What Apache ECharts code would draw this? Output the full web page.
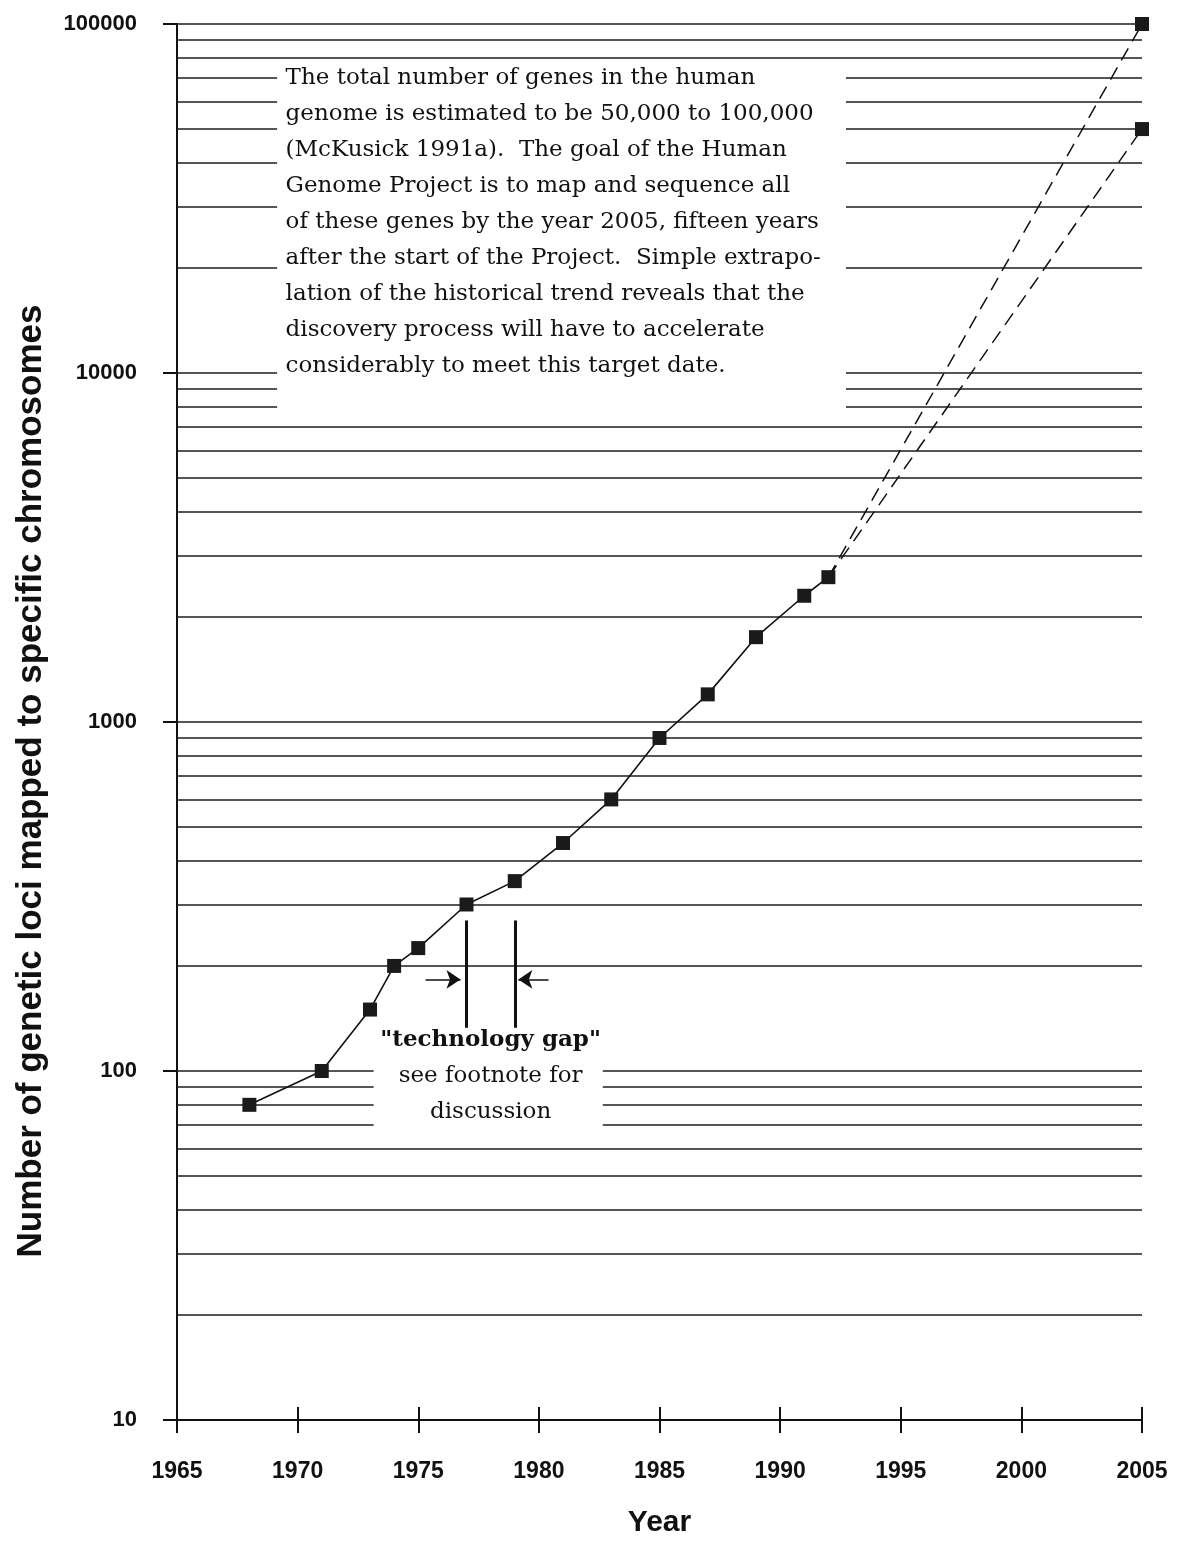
<!DOCTYPE html>
<html><head><meta charset="utf-8">
<script src="https://cdn.jsdelivr.net/npm/echarts@6/dist/echarts.min.js"></script>
<style>html,body{margin:0;padding:0;background:#fff}#c{width:1178px;height:1545px}</style>
</head><body><div id="c"></div>
<script>
// ---- data ----
const years = [1968, 1971, 1973, 1974, 1975, 1977, 1979, 1981, 1983, 1985, 1987, 1989, 1991, 1992];
const loci  = [80, 100, 150, 200, 225, 300, 350, 450, 600, 900, 1200, 1750, 2300, 2600];
const targetYear = 2005;
const targetValues = [100000, 50000];
const yTickValues = [10, 100, 1000, 10000, 100000];
const xTickYears = [1965, 1970, 1975, 1980, 1985, 1990, 1995, 2000, 2005];
const gapBarYears = [1977, 1979];
const gapBarRange = [133, 270];
const gapArrowsFrom = [1975.3, 1980.4];
const gapArrowsTo = [1976.75, 1979.15];
const gapArrowValue = 183;
const noteLines = [
  'The total number of genes in the human',
  'genome is estimated to be 50,000 to 100,000',
  '(McKusick 1991a).  The goal of the Human',
  'Genome Project is to map and sequence all',
  'of these genes by the year 2005, fifteen years',
  'after the start of the Project.  Simple extrapo-',
  'lation of the historical trend reveals that the',
  'discovery process will have to accelerate',
  'considerably to meet this target date.'
];
const gapLines = ['"technology gap"', 'see footnote for', 'discussion'];

// grid line values: 20..100, 200..1000, ... 20000..100000
const gridValues = [];
for (let d = 10; d < 100000; d *= 10) for (let k = 2; k <= 10; k++) gridValues.push(k * d);

const xMin = xTickYears[0], xMax = xTickYears[xTickYears.length - 1];
const tickFont = "'Liberation Sans', Arial, sans-serif";

const chart = echarts.init(document.getElementById('c'), null, {renderer: 'canvas'});
const lastIdx = years.length - 1;
const main = years.map((y, i) => [y, loci[i]]);

const option = {
  animation: false,
  backgroundColor: '#fff',
  grid: {left: 177, right: 36, top: 24, bottom: 125, containLabel: false, outerBoundsMode: 'none'},
  xAxis: [{
    type: 'value', min: xMin, max: xMax, interval: 5, position: 'bottom',
    name: 'Year', nameLocation: 'middle', nameGap: 88, nameMoveOverlap: false,
    nameTextStyle: {fontFamily: "'Liberation Sans', Arial, sans-serif", fontWeight: 'bold', fontSize: 30, color: '#111'},
    axisLine: {show: true, lineStyle: {color: '#111', width: 2}},
    axisTick: {show: true, length: 13, lineStyle: {color: '#111', width: 2}},
    axisLabel: {margin: 40, fontFamily: tickFont, fontWeight: 'bold', fontSize: 23, color: '#111', formatter: v => String(v)},
    splitLine: {show: false}
  }, {
    type: 'value', min: xMin, max: xMax, interval: 5, position: 'bottom',
    axisLine: {show: false},
    axisTick: {show: true, inside: true, length: 13, lineStyle: {color: '#111', width: 2}},
    axisLabel: {show: false},
    splitLine: {show: false}
  }],
  yAxis: {
    type: 'log', logBase: 10, min: yTickValues[0], max: yTickValues[yTickValues.length - 1],
    name: 'Number of genetic loci mapped to specific chromosomes',
    nameLocation: 'middle', nameRotate: 90, nameGap: 128, nameMoveOverlap: false,
    nameTextStyle: {fontFamily: "'Liberation Sans', Arial, sans-serif", fontWeight: 'bold', fontSize: 35, color: '#111', padding: [0, 118, 0, 0]},
    axisLine: {show: true, lineStyle: {color: '#111', width: 2}},
    axisTick: {show: true, length: 14, lineStyle: {color: '#111', width: 2}},
    axisLabel: {margin: 40, fontFamily: tickFont, fontWeight: 'bold', fontSize: 22, color: '#111', formatter: v => String(v)},
    splitLine: {show: false}
  },
  series: [
    {
      type: 'lines', coordinateSystem: 'cartesian2d', z: 1, silent: true, clip: false,
      lineStyle: {color: '#1c1c1c', width: 1.5, opacity: 1},
      data: gridValues.map(v => ({coords: [[xMin, v], [xMax, v]]}))
    },
    {
      type: 'line', data: main, z: 5, symbol: 'rect', symbolSize: 14,
      itemStyle: {color: '#1a1a1a'},
      lineStyle: {color: '#111', width: 1.6}
    },
    ...targetValues.map(tv => ({
      type: 'line', z: 4,
      data: [{value: main[lastIdx], symbol: 'none'}, {value: [targetYear, tv]}],
      symbol: 'rect', symbolSize: 14, itemStyle: {color: '#1a1a1a'},
      lineStyle: {color: '#111', width: 1.5, type: [14, 8]}
    })),
    {
      type: 'lines', coordinateSystem: 'cartesian2d', z: 6, silent: true, clip: false,
      lineStyle: {color: '#111', width: 3, opacity: 1},
      data: gapBarYears.map(y => ({coords: [[y, gapBarRange[0]], [y, gapBarRange[1]]]}))
    },
    {
      type: 'lines', coordinateSystem: 'cartesian2d', z: 6, silent: true, clip: false,
      symbol: ['none', 'arrow'], symbolSize: [11, 14],
      lineStyle: {color: '#111', width: 1.5, opacity: 1},
      data: gapArrowsFrom.map((f, i) => ({coords: [[f, gapArrowValue], [gapArrowsTo[i], gapArrowValue]]}))
    }
  ]
};
chart.setOption(option);

function px(x, y) { return chart.convertToPixel({xAxisIndex: 0, yAxisIndex: 0}, [x, y]); }
// annotation boxes anchored in data coordinates
const nb0 = px(1969.15, 75000), nb1 = px(1992.73, 7500), nt = px(1969.5, 79000);
const gb0 = px(1973.15, 132), gb1 = px(1982.65, 66.5), gt = px(1978.0, 138.4);
chart.setOption({
  graphic: [
    {type: 'rect', z: 50, silent: true, shape: {x: nb0[0], y: nb0[1], width: nb1[0] - nb0[0], height: nb1[1] - nb0[1]}, style: {fill: '#fff'}},
    {type: 'text', z: 51, silent: true, x: nt[0], y: nt[1],
      style: {text: noteLines.join('\n'), fontFamily: "'DejaVu Serif', serif", fontSize: 23, lineHeight: 36, fill: '#111', textAlign: 'left', textVerticalAlign: 'top'}},
    {type: 'rect', z: 50, silent: true, shape: {x: gb0[0], y: gb0[1], width: gb1[0] - gb0[0], height: gb1[1] - gb0[1]}, style: {fill: '#fff'}},
    {type: 'text', z: 51, silent: true, x: gt[0], y: gt[1],
      style: {text: '{b|' + gapLines[0] + '}\n{n|' + gapLines[1] + '}\n{n|' + gapLines[2] + '}',
        textAlign: 'center', textVerticalAlign: 'top', fill: '#111',
        rich: {
          b: {fontFamily: "'DejaVu Serif', serif", fontWeight: 'bold', fontSize: 23, lineHeight: 36, fill: '#111', align: 'center'},
          n: {fontFamily: "'DejaVu Serif', serif", fontSize: 23, lineHeight: 36, fill: '#111', align: 'center'}
        }}}
  ]
});
</script></body></html>
